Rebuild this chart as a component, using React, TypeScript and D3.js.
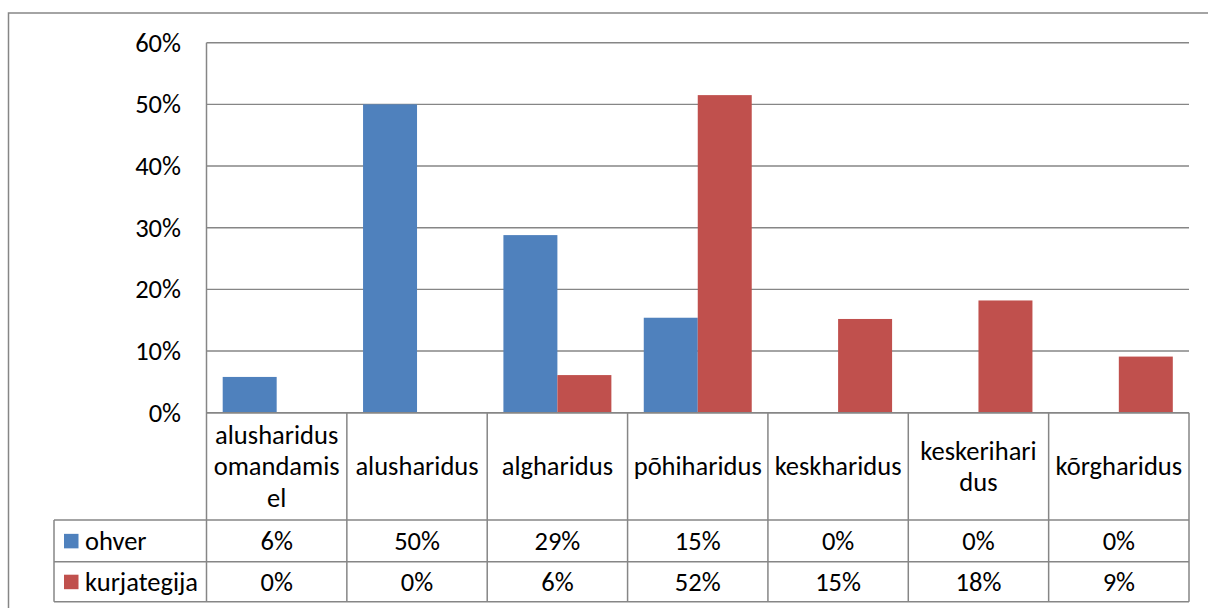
import React from "react";
import * as d3 from "d3";

const categories: string[][] = [
  ["alusharidus", "omandamis", "el"],
  ["alusharidus"],
  ["algharidus"],
  ["põhiharidus"],
  ["keskharidus"],
  ["keskerihari", "dus"],
  ["kõrgharidus"],
];
const seriesNames = ["ohver", "kurjategija"];
const ohver = [5.8, 50, 28.8, 15.4, 0, 0, 0];
const kurjategija = [0, 0, 6.1, 51.5, 15.2, 18.2, 9.1];
const ohverLabels = ["6%", "50%", "29%", "15%", "0%", "0%", "0%"];
const kurjategijaLabels = ["0%", "0%", "6%", "52%", "15%", "18%", "9%"];
const yTicks = [0, 10, 20, 30, 40, 50, 60];
const colors = ["#4F81BD", "#C0504D"];

const FONT = "Carlito, Lato, 'Open Sans', sans-serif";
const FS = 26.5;
const GRID = "#868686";

export default function App() {
  const left = 206.5;
  const right = 1189;
  const top = 42.7;
  const bottom = 412.7;
  const tableLeft = 54;
  const rowLines = [520, 561.7, 601.7];

  const x = d3
    .scaleBand<number>()
    .domain(d3.range(categories.length))
    .range([left, right])
    .paddingInner(0)
    .paddingOuter(0);
  const y = d3.scaleLinear().domain([0, 60]).range([bottom, top]);
  const bw = x.bandwidth() / 2.6;
  const off = bw * 0.3;
  const series = [ohver, kurjategija];
  const labels = [ohverLabels, kurjategijaLabels];
  const lh = 31.5;
  const catMid = (bottom + rowLines[0]) / 2;

  return (
    <svg width={1208} height={608} style={{ display: "block", position: "absolute", left: 0, top: 0 }} fontFamily={FONT}>
      {/* outer border */}
      <rect x={8.5} y={13} width={1230} height={640} fill="white" stroke={GRID} strokeWidth={1.5} />
      {/* gridlines */}
      {yTicks.map((t) => (
        <line key={"g" + t} x1={left} x2={right} y1={y(t)} y2={y(t)} stroke={GRID} strokeWidth={1.4} />
      ))}
      {yTicks.map((t) => (
        <text key={"t" + t} x={181} y={y(t)} textAnchor="end" dominantBaseline="central" fontSize={FS} fill="#000">
          {t + "%"}
        </text>
      ))}
      {/* bars */}
      {series.map((s, si) =>
        s.map((v, i) =>
          v > 0 ? (
            <rect
              key={"b" + si + "-" + i}
              x={(x(i) as number) + off + si * bw}
              y={y(v)}
              width={bw}
              height={y(0) - y(v)}
              fill={colors[si]}
            />
          ) : null
        )
      )}
      {/* axis line */}
      <line x1={left} x2={left} y1={top} y2={rowLines[2]} stroke={GRID} strokeWidth={1.5} />
      <line x1={left} x2={right} y1={bottom} y2={bottom} stroke={GRID} strokeWidth={1.5} />
      {/* table lines */}
      {rowLines.map((r, k) => (
        <line key={"r" + k} x1={tableLeft} x2={right} y1={r} y2={r} stroke={GRID} strokeWidth={1.5} />
      ))}
      <line x1={tableLeft} x2={tableLeft} y1={rowLines[0]} y2={rowLines[2]} stroke={GRID} strokeWidth={1.5} />
      {categories.map((_, i) => (
        <line
          key={"v" + i}
          x1={(x(i) as number) + x.bandwidth()}
          x2={(x(i) as number) + x.bandwidth()}
          y1={bottom}
          y2={rowLines[2]}
          stroke={GRID}
          strokeWidth={1.5}
        />
      ))}
      {/* category labels */}
      {categories.map((lines, i) => (
        <text
          key={"c" + i}
          x={(x(i) as number) + x.bandwidth() / 2}
          textAnchor="middle"
          fontSize={FS}
          fill="#000"
        >
          {lines.map((l, k) => (
            <tspan
              key={k}
              x={(x(i) as number) + x.bandwidth() / 2}
              y={catMid + (k - (lines.length - 1) / 2) * lh}
              dominantBaseline="central"
            >
              {l}
            </tspan>
          ))}
        </text>
      ))}
      {/* legend column */}
      {seriesNames.map((n, si) => {
        const cy = (rowLines[si] + rowLines[si + 1]) / 2;
        return (
          <g key={"l" + si}>
            <rect x={64} y={cy - 7} width={14.5} height={14.5} fill={colors[si]} />
            <text x={85} y={cy} dominantBaseline="central" fontSize={FS} fill="#000">
              {n}
            </text>
          </g>
        );
      })}
      {/* values */}
      {labels.map((row, si) => {
        const cy = (rowLines[si] + rowLines[si + 1]) / 2;
        return row.map((lab, i) => (
          <text
            key={"v" + si + "-" + i}
            x={(x(i) as number) + x.bandwidth() / 2}
            y={cy}
            textAnchor="middle"
            dominantBaseline="central"
            fontSize={FS}
            fill="#000"
          >
            {lab}
          </text>
        ));
      })}
    </svg>
  );
}
